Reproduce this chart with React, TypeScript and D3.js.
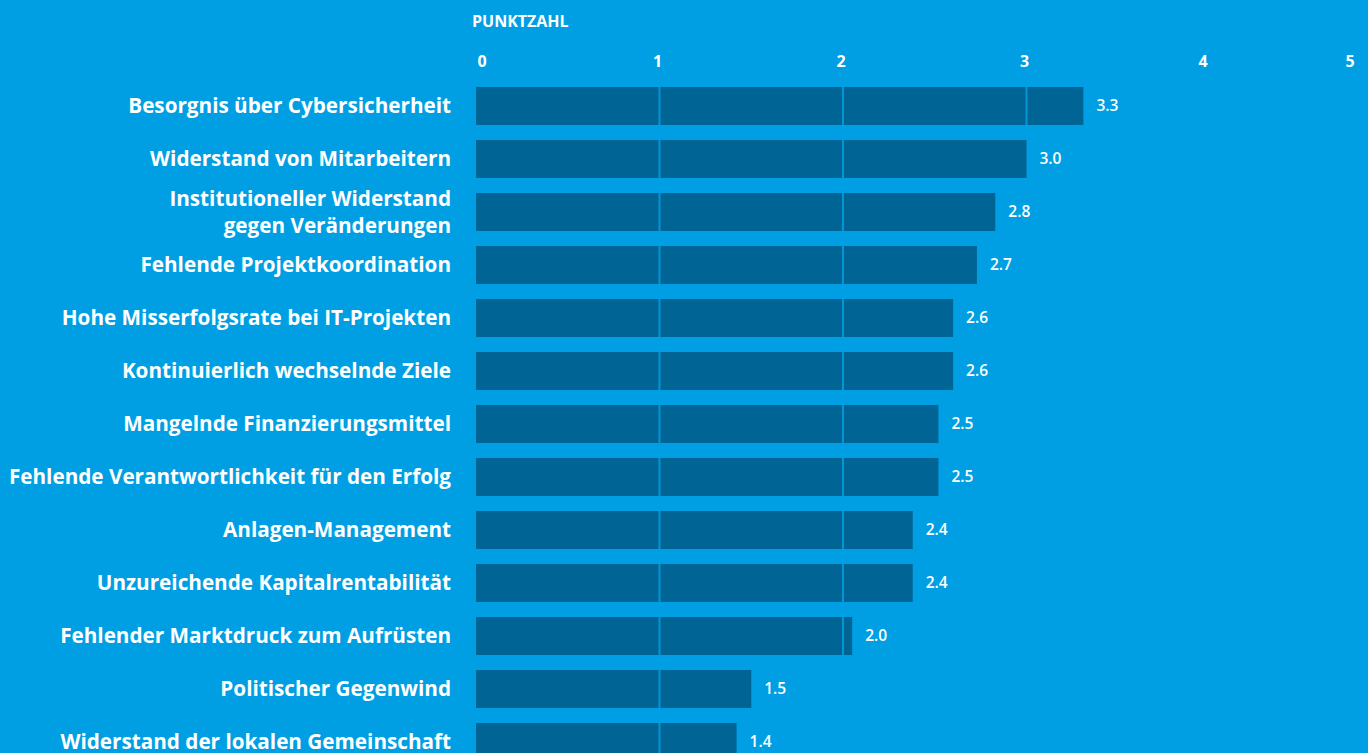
import React from "react";
import * as d3 from "d3";

const categories: string[][] = [
  ["Besorgnis über Cybersicherheit"],
  ["Widerstand von Mitarbeitern"],
  ["Institutioneller Widerstand", "gegen Veränderungen"],
  ["Fehlende Projektkoordination"],
  ["Hohe Misserfolgsrate bei IT-Projekten"],
  ["Kontinuierlich wechselnde Ziele"],
  ["Mangelnde Finanzierungsmittel"],
  ["Fehlende Verantwortlichkeit für den Erfolg"],
  ["Anlagen-Management"],
  ["Unzureichende Kapitalrentabilität"],
  ["Fehlender Marktdruck zum Aufrüsten"],
  ["Politischer Gegenwind"],
  ["Widerstand der lokalen Gemeinschaft"],
];
const values: number[] = [3.31, 3.0, 2.83, 2.73, 2.6, 2.6, 2.52, 2.52, 2.38, 2.38, 2.05, 1.5, 1.42];
const valueLabels: string[] = ["3.3", "3.0", "2.8", "2.7", "2.6", "2.6", "2.5", "2.5", "2.4", "2.4", "2.0", "1.5", "1.4"];
const ticks: number[] = [0, 1, 2, 3, 4, 5];
const axisTitle = "PUNKTZAHL";

const W = 1368;
const H = 753;
const BG = "#009fe3";
const BAR = "#006595";
const FONT = "'Open Sans', 'Noto Sans', sans-serif";

export default function App() {
  const x = d3.scaleLinear().domain([0, 1]).range([476, 659.5]);
  const idx = categories.map((_, i) => String(i));
  const y = d3
    .scaleBand<string>()
    .domain(idx)
    .range([87, 87 + 13 * 53 - 15])
    .paddingInner(15 / 53)
    .paddingOuter(0)
    .align(0);
  const bw = y.bandwidth();

  return (
    <svg
      width={W}
      height={H}
      style={{ position: "absolute", left: 0, top: 0, display: "block" }}
      fontFamily={FONT}
    >
      <rect x={0} y={0} width={W} height={H} fill={BG} />
      <text x={472} y={27} fill="#fff" fontSize={16} fontWeight={700}>
        {axisTitle}
      </text>
      {ticks.map((t, i) => {
        const last = i === ticks.length - 1;
        const first = i === 0;
        const px = last ? W - 18 : x(t) - (first ? -6 : i === 4 ? 7 : 2);
        return (
          <text
            key={t}
            x={px}
            y={67}
            fill="#fff"
            fontSize={16}
            fontWeight={700}
            textAnchor="middle"
          >
            {t}
          </text>
        );
      })}
      {values.map((v, i) => {
        const y0 = y(String(i))!;
        const cy = y0 + bw / 2;
        const lines = categories[i];
        const lh = 27;
        return (
          <g key={i}>
            <rect x={x(0)} y={y0} width={x(v) - x(0)} height={bw} fill={BAR} />
            {ticks
              .filter((t) => t > 0 && x(t) < x(v))
              .map((t) => (
                <line
                  key={t}
                  x1={x(t)}
                  x2={x(t)}
                  y1={y0}
                  y2={y0 + bw}
                  stroke={BG}
                  strokeWidth={2}
                  opacity={0.85}
                />
              ))}
            <text
              x={x(v) + 13}
              y={cy}
              dy="0.35em"
              fill="#fff"
              fontSize={15.5}
              fontWeight={600}
            >
              {valueLabels[i]}
            </text>
            {lines.map((l, j) => (
              <text
                key={j}
                x={451}
                y={cy + (j - (lines.length - 1) / 2) * lh}
                dy="0.35em"
                fill="#fff"
                fontSize={20.7}
                fontWeight={700}
                textAnchor="end"
              >
                {l}
              </text>
            ))}
          </g>
        );
      })}
    </svg>
  );
}
